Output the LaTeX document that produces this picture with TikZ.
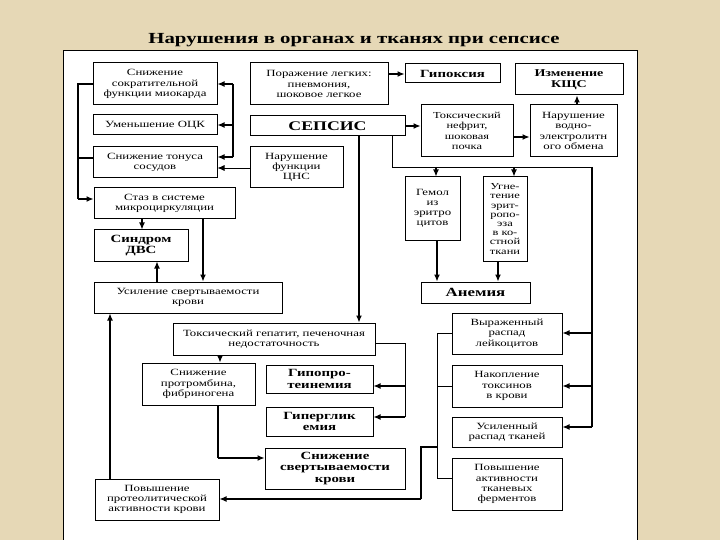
\documentclass[tikz,border=0pt]{standalone}
\usepackage{fontspec}
\setmainfont{Liberation Serif}[FakeStretch=1.35]
\usetikzlibrary{arrows.meta}
\definecolor{parch}{RGB}{230,216,182}
\begin{document}
\begin{tikzpicture}[x=1pt,y=-1pt,
  box/.style={draw, line width=1pt, fill=white, align=center, inner sep=0pt,
    font=\fontsize{9.5}{10.2}\selectfont},
  bbox/.style={box, font=\bfseries\fontsize{11}{11.5}\selectfont},
  con/.style={line width=1.2pt, -{Latex[length=7pt,width=6pt]}},
  tcon/.style={line width=0.8pt, -{Latex[length=7pt,width=6pt]}},
  ln/.style={line width=1.2pt},
  tln/.style={line width=0.8pt}]
\fill[parch] (0,0) rectangle (720,540);
\useasboundingbox (0,0) rectangle (720,540);
\node[font=\bfseries\fontsize{15.4}{18}\selectfont] (title) at (354,40) {Нарушения в органах и тканях при сепсисе};
\draw[fill=white, line width=0.8pt] (63,50) rectangle (637,548);

% left column
\node[box, minimum width=124pt, minimum height=42pt] (b1) at (155,84) {Снижение\\сократительной\\функции миокарда};
\node[box, minimum width=124pt, minimum height=20pt] (b2) at (155,125) {Уменьшение ОЦК};
\node[box, minimum width=124pt, minimum height=31pt] (b3) at (155,162.5) {Снижение тонуса\\сосудов};
\node[box, minimum width=141pt, minimum height=31pt] (b4) at (164.5,203.5) {Стаз в системе\\микроциркуляции};
\node[bbox, minimum width=94pt, minimum height=31pt] (b5) at (141,245.5) {Синдром\\ДВС};
\node[box, minimum width=188pt, minimum height=31pt] (b6) at (188,297.5) {Усиление свертываемости\\крови};
% middle top
\node[box, minimum width=138pt, minimum height=42pt] (b7) at (319,84) {Поражение легких:\\пневмония,\\шоковое легкое};
\node[box, font=\bfseries\fontsize{13.2}{14}\selectfont, minimum width=155pt, minimum height=20pt] (b8) at (327.5,126) {СЕПСИС};
\node[box, minimum width=93pt, minimum height=41pt] (b9) at (296.5,167.5) {Нарушение\\функции\\ЦНС};
% right top
\node[box, font=\bfseries\fontsize{11}{11}\selectfont, minimum width=95pt, minimum height=19pt] (b10) at (452.5,73.5) {Гипоксия};
\node[box, font=\bfseries\fontsize{10.4}{11}\selectfont, minimum width=108pt, minimum height=31pt] (b11) at (569,79.5) {Изменение\\КЩС};
\node[box, font=\fontsize{9.2}{10.5}\selectfont, minimum width=92pt, minimum height=52pt] (b12) at (467,131) {Токсический\\нефрит,\\шоковая\\почка};
\node[box, minimum width=87pt, minimum height=52pt] (b13) at (573.5,131) {Нарушение\\водно-\\электролитн\\ого обмена};
\node[box, minimum width=55pt, minimum height=63pt] (b14) at (432.5,208.5) {Гемол\\из\\эритро\\цитов};
\node[box, font=\fontsize{9.2}{9.2}\selectfont, minimum width=44pt, minimum height=84pt] (b15) at (505,219) {Угне-\\тение\\эрит-\\ропо-\\эза\\в ко-\\стной\\ткани};
\node[box, font=\bfseries\fontsize{12.5}{13}\selectfont, minimum width=109pt, minimum height=21pt] (b16) at (475.5,292.5) {Анемия};
% lower middle
\node[box, minimum width=202pt, minimum height=32pt] (b17) at (274,339) {Токсический гепатит, печеночная\\недостаточность};
\node[box, minimum width=113pt, minimum height=42pt] (b18) at (198.5,384) {Снижение\\протромбина,\\фибриногена};
\node[bbox, minimum width=107pt, minimum height=28pt] (b19) at (319.5,379) {Гипопро-\\теинемия};
\node[bbox, minimum width=107pt, minimum height=29pt] (b20) at (319.5,421.5) {Гиперглик\\емия};
\node[bbox, minimum width=140pt, minimum height=41pt] (b21) at (335,468.5) {Снижение\\свертываемости\\крови};
\node[box, minimum width=124pt, minimum height=41pt] (b22) at (157,499.5) {Повышение\\протеолитической\\активности крови};
% lower right
\node[box, minimum width=110pt, minimum height=41pt] (b23) at (507,333.5) {Выраженный\\распад\\лейкоцитов};
\node[box, minimum width=110pt, minimum height=42pt] (b24) at (507,386) {Накопление\\токсинов\\в крови};
\node[box, minimum width=110pt, minimum height=30pt] (b25) at (507,432) {Усиленный\\распад тканей};
\node[box, minimum width=110pt, minimum height=52pt] (b26) at (507,484) {Повышение\\активности\\тканевых\\ферментов};

% helper coordinates
\foreach \v in {74,84,85,125,137,157,158,167,168,199,333,343,386,417,427,447,458,478,499}
  {\coordinate (y\v) at (0,\v);}
\foreach \v in {78,110,142,157,203,218,220,233,359,392,405,421,436,437,498,514,577,592}
  {\coordinate (x\v) at (\v,0);}

% left bus
\draw[ln] (b1.west) -- (x78 |- b1.west) -- (x78 |- y199);
\draw[ln] (b3.west |- y158) -- (x78 |- y158);
\draw[con] (x78 |- y199) -- (b4.west |- y199);
% bus A
\draw[ln] (x233 |- y84) -- (x233 |- y157);
\draw[con] (x233 |- y84) -- (b1.east |- y84);
\draw[con] (x233 |- y125) -- (b2.east |- y125);
\draw[con] (x233 |- y157) -- (b3.east |- y157);
\draw[tcon] (b9.west |- y168) -- (b3.east |- y168);
% top
\draw[con] (b7.east |- y74) -- (b10.west |- y74);
\draw[con] (b8.east) -- (b8.east -| b12.west);
\draw[con] (b12.east |- y137) -- (b13.west |- y137);
\draw[con] (b13.north -| x577) -- (b11.south -| x577);
% sepsis down
\draw[con] (b8.south -| x359) -- (b17.north -| x359);
\draw[tln] (b8.south -| x392) -- (x392 |- y167) -- (x592 |- y167);
\draw[ln] (x592 |- y167) -- (x592 |- y427);
\draw[con] (x436 |- y167) -- (b14.north -| x436);
\draw[con] (x514 |- y167) -- (b15.north -| x514);
\draw[con] (x592 |- y333) -- (b23.east |- y333);
\draw[con] (x592 |- y386) -- (b24.east |- y386);
\draw[con] (x592 |- y427) -- (b25.east |- y427);
% anemia
\draw[con] (b14.south -| x437) -- (b16.north -| x437);
\draw[con] (b15.south -| x498) -- (b16.north -| x498);
% stasis etc
\draw[con] (b4.south -| x142) -- (b5.north -| x142);
\draw[con] (b4.south -| x203) -- (b6.north -| x203);
\draw[con] (b6.north -| x157) -- (b5.south -| x157);
\draw[con] (b22.north -| x110) -- (b6.south -| x110);
% hepatitis
\draw[con] (b17.south -| x220) -- (b18.north -| x220);
\draw[tln] (b17.east |- y343) -- (x405 |- y343) -- (x405 |- y417);
\draw[con] (x405 |- y417) -- (b20.east |- y417);
\draw[con] (x405 |- y386) -- (b19.east |- y386);
\draw[ln] (b18.south -| x218) -- (x218 |- y458);
\draw[con] (x218 |- y458) -- (b21.west |- y458);
% right-left bus
\draw[tln] (b23.west |- y333) -- (x437 |- y333) -- (x437 |- y478) -- (b26.west |- y478);
\draw[tln] (b24.west |- y386) -- (x437 |- y386);
\draw[ln] (x437 |- y447) -- (x421 |- y447) -- (x421 |- y499);
\draw[con] (x421 |- y499) -- (b22.east |- y499);
\end{tikzpicture}
\end{document}
